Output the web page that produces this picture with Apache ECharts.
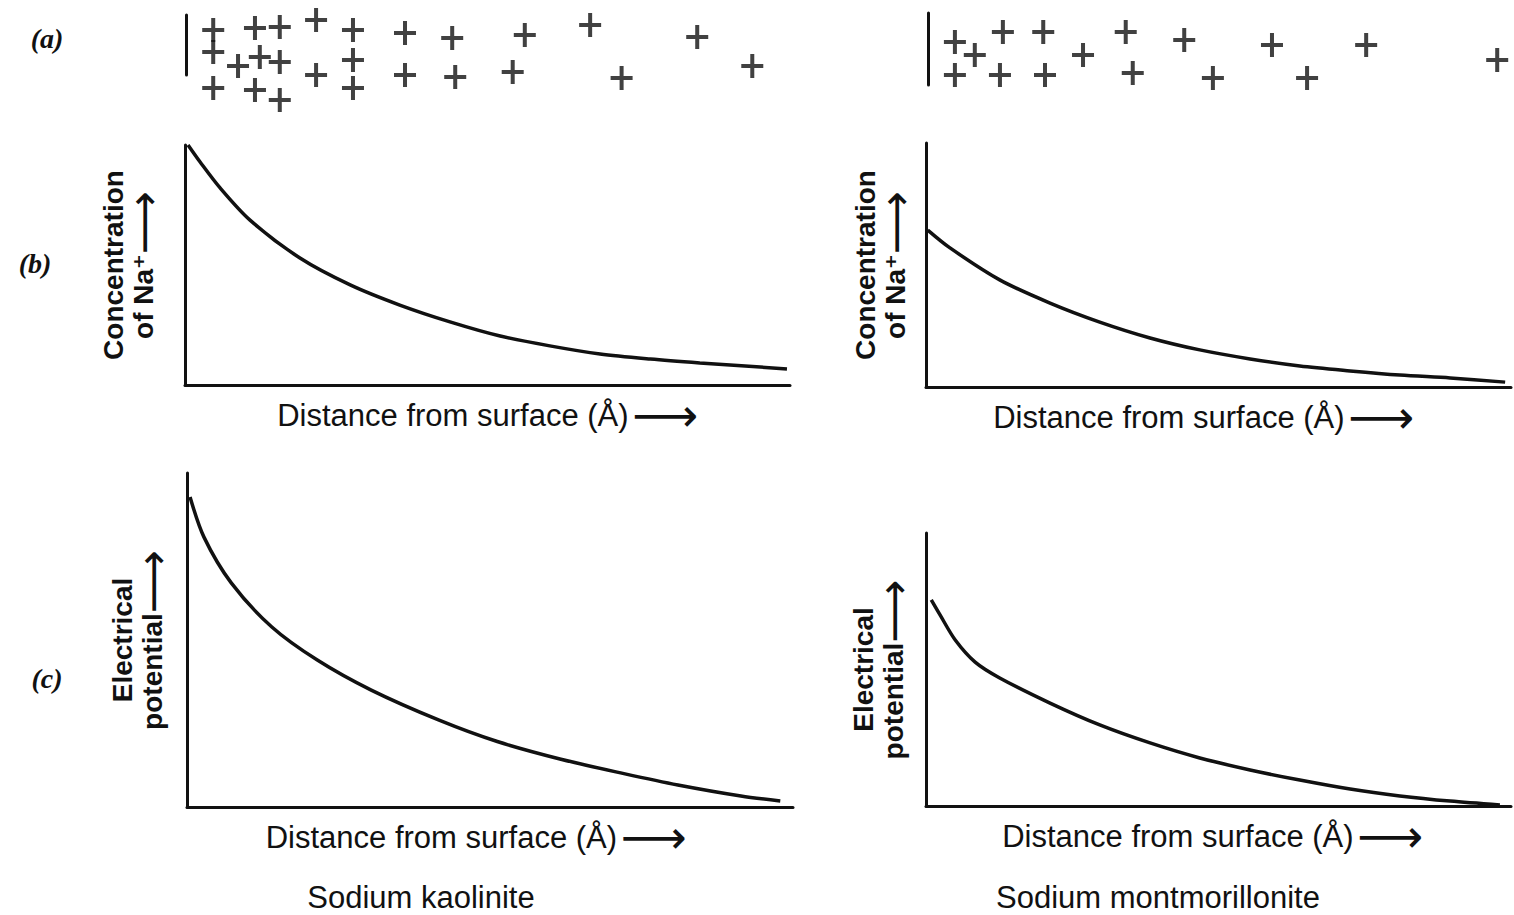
<!DOCTYPE html>
<html>
<head>
<meta charset="utf-8">
<style>
  html, body { margin: 0; padding: 0; background: #fff; }
  #chart { width: 1514px; height: 915px; }
</style>
<script src="https://cdn.jsdelivr.net/npm/echarts@6/dist/echarts.min.js"></script>
</head>
<body>
<div id="chart"></div>
<script>
var ink = '#111';
var sans = '"Liberation Sans", Arial, "DejaVu Sans", sans-serif';
var serif = '"Liberation Serif", "DejaVu Serif", serif';
var arrowFont = '"DejaVu Sans", sans-serif';

// (a) Na+ ions next to the clay surface: [distance, depth] in arbitrary units
var kaoliniteIons = [
  [4.5, 15], [11.4, 13], [15.5, 12], [21.5, 5], [27.6, 15], [36.2, 18], [44, 23], [56, 20], [66.8, 10], [84.5, 22],
  [4.5, 37], [8.6, 51], [12.2, 42], [15.5, 47], [27.6, 45], [21.5, 60], [36.2, 60], [44.5, 62], [54, 57], [72, 63], [93.6, 51],
  [4.5, 73], [11.4, 75], [15.5, 85], [27.6, 73]
];
var montmorilloniteIons = [
  [4.6, 29], [8, 42], [12.8, 19], [19.7, 19], [26.5, 42], [33.8, 19], [43.8, 27], [58.8, 32], [74.9, 32], [97.3, 47],
  [4.6, 62], [12.3, 62], [20, 62], [35, 60], [48.7, 65], [64.8, 65]
];

// (b) concentration of Na+ against distance (relative units)
var kaoliniteConc = [
  [0.5, 100], [2.5, 92.9], [5.8, 82.1], [10.7, 68.8], [19, 52.9], [27.3, 41.7], [35.5, 33.3],
  [43.8, 26.3], [52.1, 20.4], [60.3, 16.3], [68.6, 12.9], [76.9, 10.8], [85.1, 9.2], [99.5, 6.7]
];
var montmorilloniteConc = [
  [0.3, 64.3], [4.1, 57], [12.6, 43.9], [21.2, 34.4], [29.7, 26.6], [38.3, 20.1], [46.8, 15.2],
  [55.4, 11.5], [63.9, 8.6], [72.5, 6.6], [81, 4.9], [89.6, 3.7], [99, 2]
];

// (c) electrical potential against distance (relative units)
var kaolinitePot = [
  [0.5, 92.8], [2.8, 80.8], [7.3, 67.1], [14, 53.9], [21.5, 44], [30.4, 35], [41.6, 26],
  [51.2, 19.6], [61.7, 14.3], [72.1, 10], [81, 6.6], [91.4, 3.3], [97.9, 1.8]
];
var montmorillonitePot = [
  [0.9, 75.5], [2.4, 70], [5, 60.8], [8.4, 52.7], [12.6, 46.9], [21.2, 37.7], [29.7, 29.7], [38.3, 23.1],
  [46.8, 17.6], [55.4, 13.2], [63.9, 9.5], [72.5, 6.2], [81, 3.7], [89.6, 1.8], [98.1, 0.4]
];

var panelLabels = ['(a)', '(b)', '(c)'];
var clayNames = ['Sodium kaolinite', 'Sodium montmorillonite'];
var distanceName = '{t|Distance from surface (Å)} {a|⟶}';
var concName = '{t|Concentration}\n{t|of Na⁺}{a|⟶}';
var potName = '{t|Electrical}\n{t|potential}{a|⟶}';

var plus = 'path://M0,10h22v4h-22z M9,0h4v24h-4z';
var axisLine = { show: true, onZero: false, lineStyle: { color: ink, width: 3 } };

function ionX(i) {
  return { gridIndex: i, type: 'value', min: 0, max: 100, show: false };
}
function ionY(i, depth) {
  return {
    gridIndex: i, type: 'value', min: 0, max: depth, inverse: true,
    axisLine: axisLine, axisTick: { show: false }, axisLabel: { show: false }, splitLine: { show: false }
  };
}
function distAxis(i, shift) {
  return {
    gridIndex: i, type: 'value', min: 0, max: 100,
    name: distanceName, nameLocation: 'middle', nameGap: 12,
    nameTextStyle: {
      color: ink, padding: shift,
      rich: {
        t: { color: ink, fontSize: 31, fontFamily: sans, lineHeight: 36 },
        a: { color: ink, fontSize: 46, fontFamily: arrowFont, lineHeight: 36 }
      }
    },
    axisLine: axisLine, axisTick: { show: false }, axisLabel: { show: false }, splitLine: { show: false }
  };
}
function valAxis(i, name, gap) {
  return {
    gridIndex: i, type: 'value', min: 0, max: 100,
    name: name, nameLocation: 'middle', nameRotate: 90, nameGap: gap,
    nameTextStyle: {
      color: ink,
      rich: {
        t: { color: ink, fontSize: 28, fontWeight: 'bold', fontFamily: sans, lineHeight: 30 },
        a: { color: ink, fontSize: 44, fontFamily: arrowFont, lineHeight: 30 }
      }
    },
    axisLine: axisLine, axisTick: { show: false }, axisLabel: { show: false }, splitLine: { show: false }
  };
}
function ions(i, data) {
  return {
    type: 'scatter', xAxisIndex: i, yAxisIndex: i, data: data, clip: false, silent: true,
    symbol: plus, symbolSize: [22, 24], itemStyle: { color: ink }
  };
}
function curve(i, data) {
  return {
    type: 'line', xAxisIndex: i, yAxisIndex: i, data: data, smooth: 0.3,
    showSymbol: false, silent: true, lineStyle: { color: ink, width: 3.5 }
  };
}
function label(text, x, y, font, size, weight, style) {
  return {
    type: 'text', x: x, y: y,
    style: { text: text, fill: ink, font: style + ' ' + weight + ' ' + size + 'px ' + font, align: 'center', verticalAlign: 'middle' }
  };
}

var chart = echarts.init(document.getElementById('chart'), null, { renderer: 'svg' });
chart.setOption({
  animation: false,
  backgroundColor: '#fff',
  grid: [
    { left: 186, top: 15, width: 605, height: 60 },
    { left: 928, top: 13, width: 585, height: 72 },
    { left: 185, top: 145, width: 605, height: 240 },
    { left: 926, top: 143, width: 585, height: 244 },
    { left: 187, top: 473, width: 606, height: 334 },
    { left: 926, top: 533, width: 585, height: 273 }
  ],
  xAxis: [
    ionX(0), ionX(1),
    distAxis(2, [0, 0, 0, 0]), distAxis(3, [0, 30, 0, 0]),
    distAxis(4, [0, 28, 0, 0]), distAxis(5, [0, 12, 0, 0])
  ],
  yAxis: [
    ionY(0, 60), ionY(1, 72),
    valAxis(2, concName, 27), valAxis(3, concName, 16),
    valAxis(4, potName, 20), valAxis(5, potName, 18)
  ],
  series: [
    ions(0, kaoliniteIons), ions(1, montmorilloniteIons),
    curve(2, kaoliniteConc), curve(3, montmorilloniteConc),
    curve(4, kaolinitePot), curve(5, montmorillonitePot)
  ],
  graphic: [
    label(panelLabels[0], 47, 38, serif, 28, 'bold', 'italic'),
    label(panelLabels[1], 35, 263, serif, 28, 'bold', 'italic'),
    label(panelLabels[2], 47, 678, serif, 28, 'bold', 'italic'),
    label(clayNames[0], 421, 897, sans, 31, 'normal', 'normal'),
    label(clayNames[1], 1158, 897, sans, 31, 'normal', 'normal')
  ]
});
window.addEventListener('resize', function() { chart.resize(); });
</script>
</body>
</html>
